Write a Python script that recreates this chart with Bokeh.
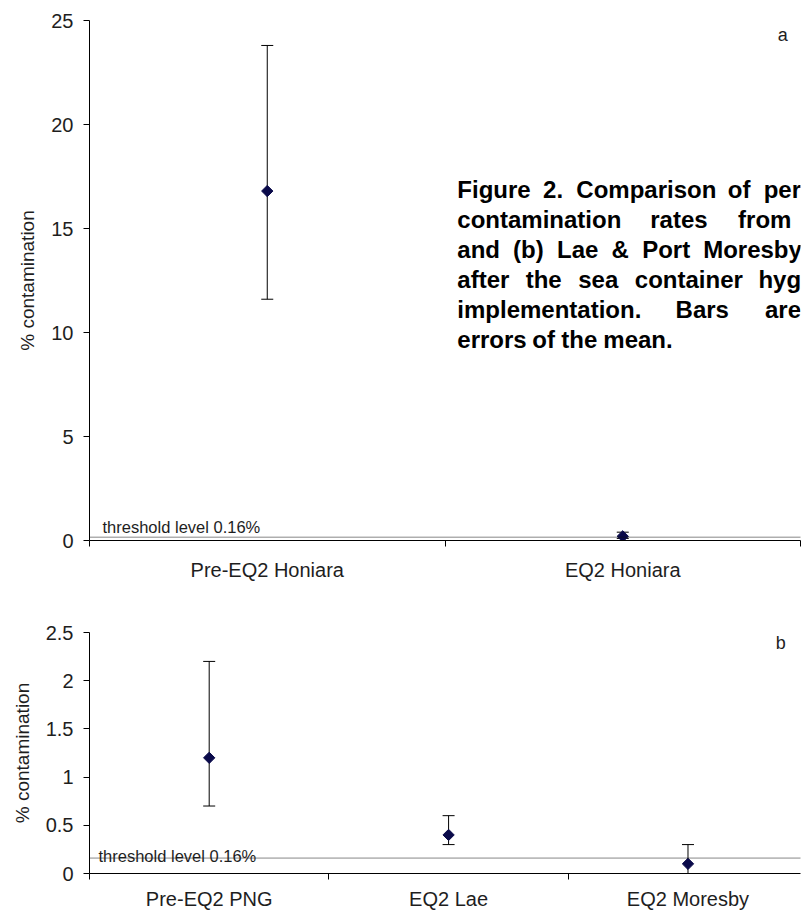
import numpy as np
from bokeh.plotting import figure
from bokeh.models import (Range1d, FixedTicker, Whisker, TeeHead, Label, Span,
                          ColumnDataSource, NumeralTickFormatter)
from bokeh.layouts import column
from bokeh.embed import file_html
from bokeh.resources import INLINE

# ---------------- data ----------------
top_categories = ["Pre-EQ2 Honiara", "EQ2 Honiara"]
top_mean = [16.8, 0.2]
top_upper = [23.8, 0.4]
top_lower = [11.6, 0.1]
top_yticks = [0, 5, 10, 15, 20, 25]

bottom_categories = ["Pre-EQ2 PNG", "EQ2 Lae", "EQ2 Moresby"]
bottom_mean = [1.2, 0.4, 0.1]
bottom_upper = [2.2, 0.6, 0.3]
bottom_lower = [0.7, 0.3, 0.0]
bottom_yticks = [0, 0.5, 1, 1.5, 2, 2.5]

threshold = 0.16
threshold_text = "threshold level 0.16%"
y_label = "% contamination"
# caption text as visible in the picture (right part is cut by the page edge)
caption_lines = [
    "Figure 2. Comparison of per",
    "contamination rates from",
    "and (b) Lae & Port Moresby",
    "after the sea container hyg",
    "implementation. Bars are",
    "errors of the mean.",
]
caption_justified = [True, True, True, True, True, False]
caption_line_end = [800, 790, 800, 800, 800, None]

FONT = "Liberation Sans"
TXT = "#1e1e1e"
MARK = "#0a0a4a"

# Arial/Liberation Sans Bold advance widths (per 1000 em) for the caption
BOLD_W = {" ": 278, "F": 611, "i": 278, "g": 611, "u": 611, "r": 389, "e": 556,
          "2": 556, ".": 278, "C": 722, "o": 611, "m": 889, "p": 611, "a": 556,
          "s": 556, "n": 611, "f": 333, "c": 556, "t": 333, "(": 333, ")": 333,
          "b": 611, "L": 611, "&": 722, "P": 667, "M": 833, "y": 556, "h": 611,
          "l": 278, "B": 722, "d": 611}


def text_width(s, size):
    return sum(BOLD_W.get(ch, 556) for ch in s) * size / 1000.0


def build(cats, mean, upper, lower, yticks, xmax, ymax, width, height, borders,
          label_standoff):
    left, right, top, bottom = borders
    p = figure(width=width, height=height, x_range=Range1d(0, xmax),
               y_range=Range1d(0, ymax), output_backend="svg",
               toolbar_location=None, min_border_left=left,
               min_border_right=right, min_border_top=top,
               min_border_bottom=bottom)
    p.outline_line_color = None
    p.grid.visible = False
    p.background_fill_color = "white"
    p.border_fill_color = "white"

    n = len(cats)
    xs = [i + 0.5 for i in range(n)]
    src = ColumnDataSource(dict(x=xs, mean=mean, upper=upper, lower=lower))

    # x axis: labels at category centres, ticks at category boundaries
    xa = p.xaxis[0]
    xa.ticker = FixedTicker(ticks=xs, minor_ticks=list(range(n + 1)))
    xa.major_label_overrides = {x: c for x, c in zip(xs, cats)}
    xa.major_tick_out = 0
    xa.major_tick_in = 0
    xa.minor_tick_out = 6
    xa.minor_tick_in = 0
    xa.minor_tick_line_color = "black"
    xa.axis_line_color = "black"
    xa.major_label_standoff = label_standoff
    xa.major_label_text_font = FONT
    xa.major_label_text_font_size = "20px"
    xa.major_label_text_color = TXT

    ya = p.yaxis[0]
    ya.ticker = FixedTicker(ticks=yticks)
    ya.formatter = NumeralTickFormatter(format="0.[0]")
    ya.major_tick_out = 6
    ya.major_tick_in = 0
    ya.minor_tick_line_color = None
    ya.axis_line_color = "black"
    ya.major_tick_line_color = "black"
    ya.major_label_standoff = 10
    ya.major_label_text_font = FONT
    ya.major_label_text_font_size = "20px"
    ya.major_label_text_color = TXT
    ya.axis_label = y_label
    ya.axis_label_standoff = 10
    ya.axis_label_text_font = FONT
    ya.axis_label_text_font_size = "19px"
    ya.axis_label_text_font_style = "normal"
    ya.axis_label_text_color = TXT

    p.add_layout(Span(location=threshold, dimension="width", line_color="#111111",
                      line_width=1, line_dash="1 1"))

    p.add_layout(Whisker(base="x", upper="upper", lower="lower", source=src,
                         dimension="height", line_color="black", line_width=1,
                         upper_head=TeeHead(size=12, line_color="black", line_width=1),
                         lower_head=TeeHead(size=12, line_color="black", line_width=1)))
    p.scatter("x", "mean", source=src, marker="square", angle=np.pi / 4, size=8,
              fill_color=MARK, line_color=MARK)
    return p


# top chart: frame spans x 79..800, y 20..540 (canvas pixels)
top = build(top_categories, top_mean, top_upper, top_lower, top_yticks, 2, 25,
            810, 600, (79, 10, 20, 60), 12)
# bottom chart (starts at y 600): frame spans x 89..810, y 632..873
bottom = build(bottom_categories, bottom_mean, bottom_upper, bottom_lower,
               bottom_yticks, 2.97, 2.5, 810, 312, (89, 0, 32, 39), 8)


def tpos(px, py):
    return (px - 79) / (721 / 2), (540 - py) / (520 / 25)


def bpos(px, py):
    return (px - 89) / (721 / 2.97), (873 - py) / (241 / 2.5)


def label(p, xy, text, size, style="normal", baseline="alphabetic", align="left",
          xoff=0, yoff=0, color=TXT):
    p.add_layout(Label(x=xy[0], y=xy[1], text=text, text_font=FONT,
                       text_font_size=size, text_font_style=style,
                       text_color=color, text_baseline=baseline,
                       text_align=align, x_offset=xoff, y_offset=yoff))


# threshold labels
label(top, (0, threshold), threshold_text, "16.5px", xoff=13, yoff=10)
label(bottom, (0, threshold), threshold_text, "16.5px", xoff=9, yoff=2)

# panel letters
label(top, tpos(777, 34), "a", "18px", baseline="middle")
label(bottom, bpos(785, 632), "b", "18px", baseline="top")

# caption (justified, bold)
CAP_SIZE = 24
CAP_X = 452
for i, line in enumerate(caption_lines):
    base_y = 189 + 30 * i
    words = line.split(" ")
    widths = [text_width(w, CAP_SIZE) for w in words]
    if caption_justified[i] and len(words) > 1:
        gap = (caption_line_end[i] - CAP_X - sum(widths)) / (len(words) - 1)
    else:
        gap = text_width(" ", CAP_SIZE)
    x = CAP_X
    for w, wd in zip(words, widths):
        label(top, tpos(x, base_y), w, f"{CAP_SIZE}px", style="bold", color="black")
        x += wd + gap

layout = column(top, bottom, spacing=0)
open("out.html", "w").write(file_html(layout, INLINE))
